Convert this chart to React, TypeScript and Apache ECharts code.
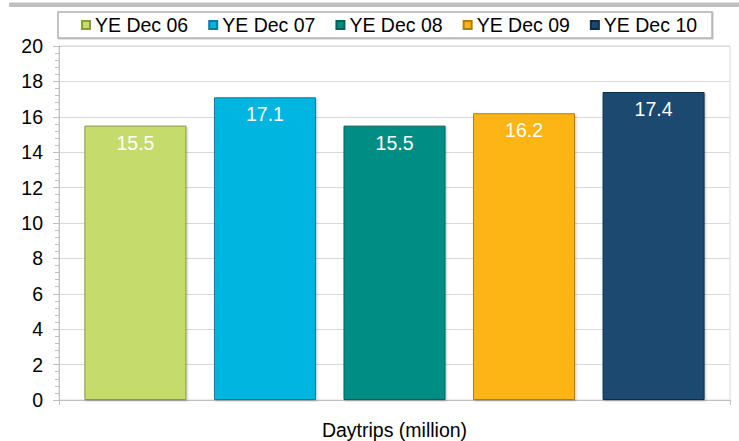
import React, { useEffect, useRef } from "react";
import * as echarts from "echarts";

const categories = ["Daytrips (million)"];
const seriesNames = ["YE Dec 06", "YE Dec 07", "YE Dec 08", "YE Dec 09", "YE Dec 10"];
const seriesValues = [15.5, 17.1, 15.5, 16.2, 17.4];
const seriesColors = ["#C5DC6D", "#00B5E0", "#008E84", "#FDB515", "#1A4A70"];
const borderColors = ["#8A9A40", "#0A7E9C", "#00625B", "#B07E0C", "#0E2E48"];

export default function App() {
  const ref = useRef<HTMLDivElement>(null);
  useEffect(() => {
    if (!ref.current) return;
    const chart = echarts.init(ref.current, null, { renderer: "svg" });
    const font = "Liberation Sans, Arial, sans-serif";
    chart.setOption({
      animation: false,
      backgroundColor: "#ffffff",
      textStyle: { fontFamily: font },
      graphic: [
        {
          type: "rect",
          shape: { x: 9, y: 2.5, width: 730, height: 4.5 },
          style: { fill: "#BFBFBF" },
          silent: true,
        },
      ],
      legend: {
        left: 58,
        top: 12,
        width: 669,
        itemWidth: 8,
        itemHeight: 8,
        itemGap: 20,
        icon: "rect",
        padding: [3, 15, 3, 23],
        borderColor: "#B0B0B0",
        borderWidth: 1.5,
        backgroundColor: "#ffffff",
        shadowColor: "rgba(0,0,0,0.15)",
        shadowOffsetX: 1,
        shadowOffsetY: 1,
        shadowBlur: 1,
        textStyle: { fontFamily: font, fontSize: 19.5, color: "#000000", padding: [2, 0, 0, 0] },
        data: seriesNames,
      },
      grid: {
        left: 59,
        right: 9,
        top: 46,
        bottom: 41,
        show: true,
        borderColor: "#D9D9D9",
        borderWidth: 1,
      },
      xAxis: {
        type: "category",
        data: categories,
        axisLine: { lineStyle: { color: "#BFBFBF", width: 1 } },
        axisTick: { show: true, length: 5, lineStyle: { color: "#BFBFBF" } },
        axisLabel: { fontFamily: font, fontSize: 19.5, color: "#000000", margin: 20 },
      },
      yAxis: {
        type: "value",
        min: 0,
        max: 20,
        interval: 2,
        axisLine: { show: true, lineStyle: { color: "#BFBFBF", width: 1 } },
        axisTick: { show: true, length: 6, lineStyle: { color: "#BFBFBF" } },
        minorTick: { show: true, splitNumber: 5, length: 4, lineStyle: { color: "#BFBFBF" } },
        splitLine: { show: true, lineStyle: { color: "#D9D9D9", width: 1 } },
        axisLabel: { fontFamily: font, fontSize: 19.5, color: "#000000", margin: 16 },
      },
      series: seriesNames.map((name, i) => ({
        name,
        type: "bar",
        data: [seriesValues[i]],
        barWidth: 102,
        barGap: "27%",
        itemStyle: {
          color: seriesColors[i],
          borderColor: borderColors[i],
          borderWidth: 1,
          shadowColor: "rgba(0,0,0,0.25)",
          shadowBlur: 2,
          shadowOffsetX: 1,
          shadowOffsetY: 1,
        },
        label: {
          show: true,
          position: "insideTop",
          distance: 7,
          color: "#ffffff",
          fontFamily: font,
          fontSize: 19.5,
          formatter: (p: any) => Number(p.value).toFixed(1),
        },
      })),
    });
    return () => chart.dispose();
  }, []);
  return <div ref={ref} style={{ width: 739, height: 441, position: "absolute", left: 0, top: 0 }} />;
}
